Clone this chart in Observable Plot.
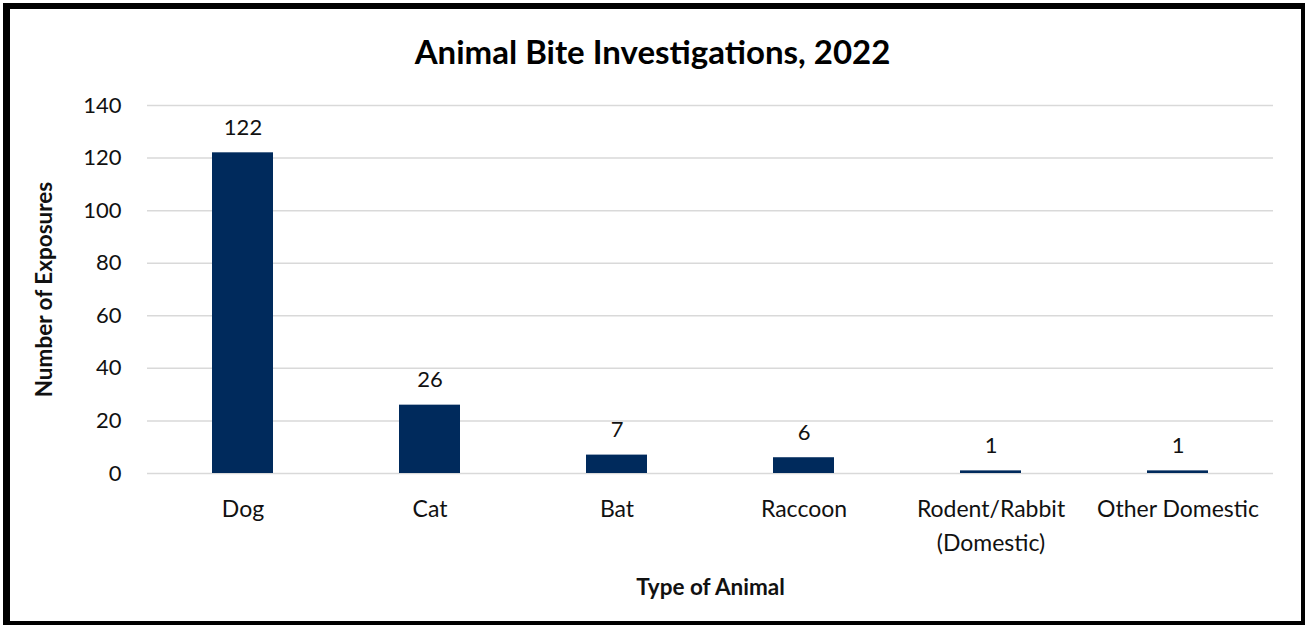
<!DOCTYPE html>
<html>
<head>
<meta charset="utf-8">
<script src="https://cdn.jsdelivr.net/npm/d3@7"></script>
<script src="https://cdn.jsdelivr.net/npm/@observablehq/plot@0.6"></script>
<style>
  body { margin: 0; background: #fff; font-family: Lato, "Open Sans", sans-serif; }
  #wrap { position: relative; width: 1305px; height: 627px; overflow: hidden; }
  #frame { position: absolute; left: 3px; top: 3px; width: 1291px; height: 612px;
           border-style: solid; border-color: #000; border-width: 6px 4px 4px 7px; pointer-events: none; }
  #title { position: absolute; left: 0; width: 1305px; top: 31px; text-align: center;
           font: bold 33px Lato, sans-serif; color: #000; }
  #chart { position: absolute; left: 0; top: 0; }
</style>
</head>
<body>
<div id="wrap">
  <div id="chart"></div>
  <div id="title">Animal Bite Investigations, 2022</div>
  <div id="frame"></div>
</div>
<script>
const categories = ["Dog", "Cat", "Bat", "Raccoon", "Rodent/Rabbit\n(Domestic)", "Other Domestic"];
const exposures = [122, 26, 7, 6, 1, 1];
const yTicks = [0, 20, 40, 60, 80, 100, 120, 140];

const data = categories.map((c, i) => ({animal: c, value: exposures[i]}));

const chart = Plot.plot({
  width: 1305,
  height: 627,
  marginLeft: 147,
  marginRight: 32,
  marginTop: 105,
  marginBottom: 154,
  style: {fontFamily: "Lato, sans-serif", fontSize: "22px", color: "#111", background: "transparent"},
  x: {domain: categories, paddingInner: 0.675, paddingOuter: 0.3375},
  y: {domain: [0, 140], ticks: yTicks},
  marks: [
    Plot.gridY(yTicks, {stroke: "#d9d9d9", strokeOpacity: 1, strokeWidth: 1.5}),
    Plot.barY(data, {x: "animal", y: "value", fill: "#002a5c"}),
    Plot.text(data, {x: "animal", y: "value", text: d => String(d.value), dy: -25, fontSize: 22, fill: "#111"}),
    Plot.axisY({ticks: yTicks, tickSize: 0, tickPadding: 26, fontSize: 22,
      label: "Number of Exposures", labelAnchor: "center", labelArrow: "none", labelOffset: 111}),
    Plot.axisX({tickSize: 0, tickPadding: 19, fontSize: 23, lineHeight: 1.48,
      label: "Type of Animal", labelAnchor: "center", labelArrow: "none", labelOffset: 121})
  ]
});
// bold axis titles
chart.querySelectorAll("g[aria-label='y-axis label'] text, g[aria-label='x-axis label'] text").forEach(t => {
  t.setAttribute("font-weight", "bold");
  t.setAttribute("font-size", "22.5");
});
document.getElementById("chart").appendChild(chart);
</script>
</body>
</html>
